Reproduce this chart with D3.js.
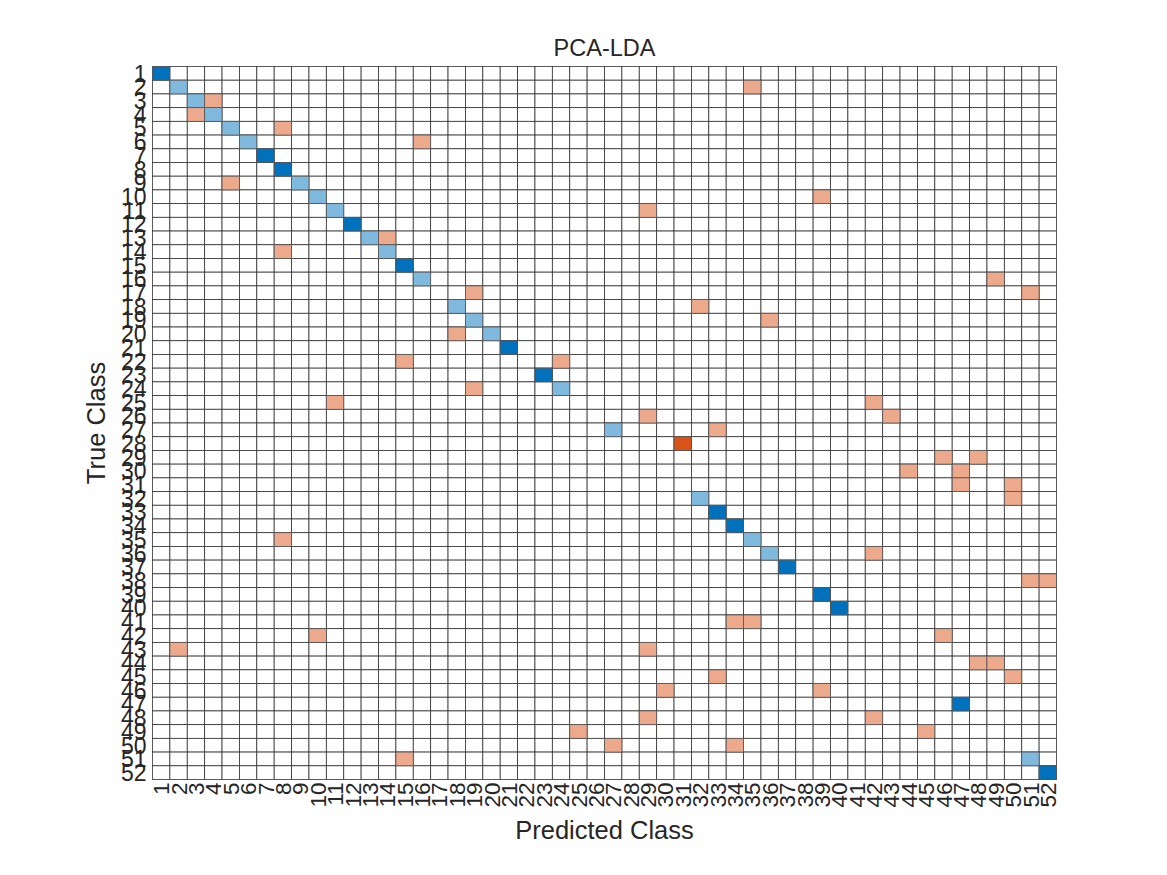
<!DOCTYPE html>
<html>
<head>
<meta charset="utf-8">
<script src="https://cdn.jsdelivr.net/npm/d3@7"></script>
<style>
  body { margin: 0; background: #fff; }
  text { font-family: "Liberation Sans", Arial, sans-serif; fill: #262626; }
</style>
</head>
<body>
<svg id="chart" width="1167" height="875"></svg>
<script>
// class labels 1..52
var classes = [];
for (var c = 1; c <= 52; c++) classes.push(String(c));

// non-zero cells of the confusion matrix
var trueClass = [1,2,2,3,3,4,4,5,5,6,6,7,8,9,9,10,10,11,11,12,13,13,14,14,15,16,16,17,17,18,18,19,19,20,20,21,22,22,23,24,24,25,25,26,26,27,27,28,29,29,30,30,31,31,32,32,33,34,35,35,36,36,37,38,38,39,40,41,41,42,42,43,43,44,44,45,45,46,46,47,48,48,49,49,50,50,51,51,52];
var predClass = [1,2,35,3,4,3,4,5,8,6,16,7,8,5,9,10,39,11,29,12,13,14,8,14,15,16,49,19,51,18,32,19,36,18,20,21,15,24,23,19,24,11,42,29,43,27,33,31,46,48,44,47,47,50,32,50,33,34,8,35,36,42,37,51,52,39,40,34,35,10,46,2,29,48,49,33,50,30,39,47,29,42,25,45,27,34,15,51,52];
var counts = [2,1,1,1,1,1,1,1,1,1,1,2,2,1,1,1,1,1,1,2,1,1,1,1,2,1,1,1,1,1,1,1,1,1,1,2,1,1,2,1,1,1,1,1,1,1,1,2,1,1,1,1,1,1,1,1,2,2,1,1,1,1,2,1,1,2,2,1,1,1,1,1,1,1,1,1,1,1,1,2,1,1,1,1,1,1,1,1,2];

var cells = trueClass.map(function(t, i) {
  return { t: String(t), p: String(predClass[i]), n: counts[i] };
});

var svg = d3.select("#chart");
var plotL = 152.5, plotR = 1056.5, plotT = 66.5, plotB = 779.5;

var x = d3.scaleBand().domain(classes).range([plotL, plotR]);
var y = d3.scaleBand().domain(classes).range([plotT, plotB]);

var maxN = d3.max(counts);
var blue = d3.scaleLinear().domain([0, maxN]).range(["#ffffff", "#0072bd"]);
var red = d3.scaleLinear().domain([0, maxN]).range(["#ffffff", "#d95319"]);

// background grid
var grid = svg.append("g");
classes.forEach(function(r) {
  grid.selectAll(null)
    .data(classes)
    .enter()
    .append("rect")
    .attr("x", function(d) { return x(d); })
    .attr("y", y(r))
    .attr("width", x.bandwidth())
    .attr("height", y.bandwidth())
    .attr("fill", "#fff")
    .attr("stroke", "#333")
    .attr("stroke-width", 0.8);
});

// coloured cells
svg.append("g")
  .selectAll("rect")
  .data(cells)
  .enter()
  .append("rect")
  .attr("x", function(d) { return x(d.p); })
  .attr("y", function(d) { return y(d.t); })
  .attr("width", x.bandwidth())
  .attr("height", y.bandwidth())
  .attr("fill", function(d) { return d.t == d.p ? blue(d.n) : red(d.n); })
  .attr("stroke", "#555")
  .attr("stroke-width", 0.8);

// y tick labels
svg.append("g")
  .selectAll("text")
  .data(classes)
  .enter()
  .append("text")
  .attr("x", plotL - 6)
  .attr("y", function(d) { return y(d) + y.bandwidth() / 2; })
  .attr("dy", "0.36em")
  .attr("text-anchor", "end")
  .attr("font-size", 23)
  .text(function(d) { return d; });

// x tick labels (rotated)
svg.append("g")
  .selectAll("text")
  .data(classes)
  .enter()
  .append("text")
  .attr("transform", function(d) {
    return "translate(" + (x(d) + x.bandwidth() / 2) + "," + (plotB + 3) + ") rotate(-90)";
  })
  .attr("dy", "0.36em")
  .attr("text-anchor", "end")
  .attr("font-size", 22.5)
  .text(function(d) { return d; });

// title and axis labels
svg.append("text")
  .attr("x", (plotL + plotR) / 2)
  .attr("y", 56)
  .attr("text-anchor", "middle")
  .attr("font-size", 23.5)
  .attr("fill", "#000")
  .text("PCA-LDA");

svg.append("text")
  .attr("x", (plotL + plotR) / 2)
  .attr("y", 839)
  .attr("text-anchor", "middle")
  .attr("font-size", 25.5)
  .text("Predicted Class");

svg.append("text")
  .attr("transform", "translate(105," + (plotT + plotB) / 2 + ") rotate(-90)")
  .attr("text-anchor", "middle")
  .attr("font-size", 25.5)
  .text("True Class");
</script>
</body>
</html>
